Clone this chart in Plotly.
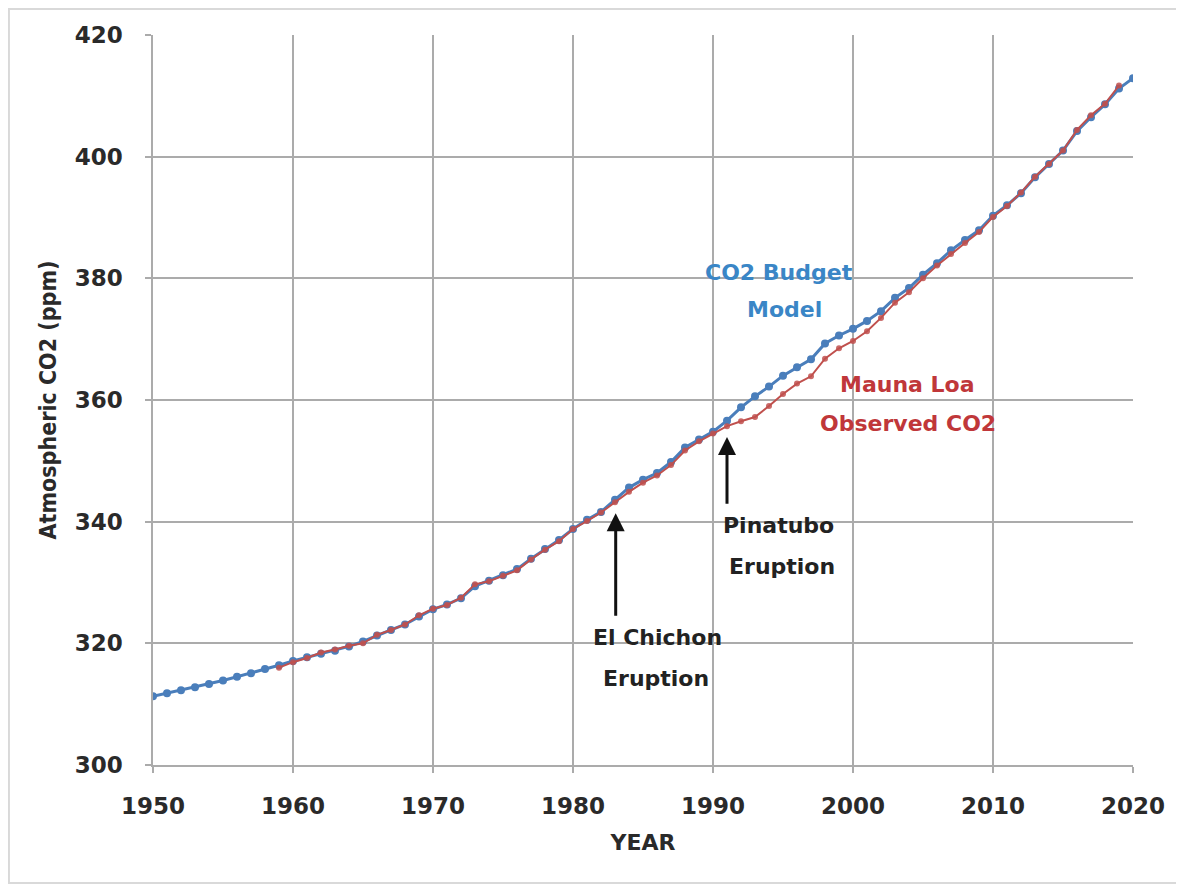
import plotly.graph_objects as go

# Data
model_years = list(range(1950, 2021))
model_co2 = [311.3, 311.8, 312.3, 312.8, 313.3, 313.9, 314.5, 315.1, 315.8, 316.4,
             317.1, 317.7, 318.3, 318.8, 319.5, 320.3, 321.3, 322.2, 323.1, 324.4,
             325.6, 326.4, 327.4, 329.4, 330.3, 331.2, 332.2, 333.9, 335.5, 337.0,
             338.8, 340.3, 341.6, 343.6, 345.6, 346.9, 348.0, 349.8, 352.2, 353.5,
             354.8, 356.6, 358.8, 360.6, 362.2, 364.0, 365.4, 366.7, 369.3, 370.6,
             371.7, 373.0, 374.6, 376.8, 378.4, 380.6, 382.5, 384.6, 386.3, 387.9,
             390.3, 392.0, 394.0, 396.6, 398.8, 401.0, 404.2, 406.5, 408.6, 411.2,
             412.9]

obs_years = list(range(1959, 2020))
obs_co2 = [316.0, 316.9, 317.6, 318.5, 319.0, 319.6, 320.0, 321.4, 322.2, 323.1,
           324.6, 325.7, 326.3, 327.5, 329.7, 330.2, 331.1, 332.0, 333.8, 335.4,
           336.8, 338.8, 340.1, 341.5, 343.2, 344.9, 346.4, 347.6, 349.3, 351.7,
           353.2, 354.5, 355.7, 356.5, 357.2, 359.0, 361.0, 362.7, 363.9, 366.8,
           368.5, 369.7, 371.3, 373.5, 376.0, 377.7, 380.0, 382.1, 384.0, 385.8,
           387.6, 390.1, 391.9, 394.1, 396.7, 398.8, 401.0, 404.4, 406.8, 408.7,
           411.7]

x_ticks = [1950, 1960, 1970, 1980, 1990, 2000, 2010, 2020]
y_ticks = [300, 320, 340, 360, 380, 400, 420]

BLUE = "#4A7EBB"
RED = "#C0504D"
GRID = "#ABABAB"
FONT = "DejaVu Sans"

fig = go.Figure()
fig.add_trace(go.Scatter(x=model_years, y=model_co2, mode="lines+markers",
                         line=dict(color=BLUE, width=3),
                         marker=dict(color=BLUE, size=8),
                         name="CO2 Budget Model", showlegend=False))
fig.add_trace(go.Scatter(x=obs_years, y=obs_co2, mode="lines+markers",
                         line=dict(color=RED, width=2),
                         marker=dict(color=RED, size=6, opacity=0.85),
                         name="Mauna Loa Observed CO2", showlegend=False))

labels = [
    ("CO2 Budget", 1994.7, 381.0, "#3A86C6"),
    ("Model", 1995.1, 374.8, "#3A86C6"),
    ("Mauna Loa", 2003.9, 362.6, "#C0373A"),
    ("Observed CO2", 2003.9, 356.1, "#C0373A"),
    ("Pinatubo", 1994.7, 339.3, "#222222"),
    ("Eruption", 1994.9, 332.7, "#222222"),
    ("El Chichon", 1986.0, 320.9, "#222222"),
    ("Eruption", 1985.9, 314.3, "#222222"),
]
for txt, x, y, c in labels:
    fig.add_annotation(x=x, y=y, text="<b>%s</b>" % txt, showarrow=False,
                       font=dict(family=FONT, size=22, color=c),
                       xanchor="center", yanchor="middle")

arrows = [(1983.05, 341.4, 324.3), (1991.0, 353.9, 342.7)]
for x, ytip, ytail in arrows:
    fig.add_annotation(x=x, y=ytip, ax=x, ay=ytail, axref="x", ayref="y",
                       xref="x", yref="y", text="", showarrow=True,
                       arrowhead=2, arrowsize=1.2, arrowwidth=3, arrowcolor="#111111")

fig.add_shape(type="rect", xref="paper", yref="paper",
              x0=-0.147, x1=1.048, y0=-0.1616, y1=1.0356,
              line=dict(color="#D9D9D9", width=2), layer="below")

axis_common = dict(showgrid=True, gridcolor=GRID, gridwidth=1.5,
                   showline=True, linecolor=GRID, linewidth=1.5,
                   ticks="outside", ticklen=6, tickcolor=GRID, tickwidth=1.5,
                   zeroline=False,
                   tickfont=dict(family=FONT, size=23, color="#2A2A2A", weight="bold"))

fig.update_layout(
    width=1184, height=887,
    margin=dict(l=145, r=59, t=27, b=130),
    paper_bgcolor="white", plot_bgcolor="white",
    xaxis=dict(range=[1950, 2020], tickvals=x_ticks, ticklabelstandoff=14,
               title=dict(text="<b>YEAR</b>", font=dict(family=FONT, size=22, color="#2A2A2A"),
                          standoff=16),
               **axis_common),
    yaxis=dict(range=[300, 420], tickvals=y_ticks, ticklabelstandoff=18,
               title=dict(text="<b>Atmospheric CO2 (ppm)</b>",
                          font=dict(family="DejaVu Sans Condensed", size=23, color="#2A2A2A"),
                          standoff=12),
               **axis_common),
)

fig.write_html("out.html")
